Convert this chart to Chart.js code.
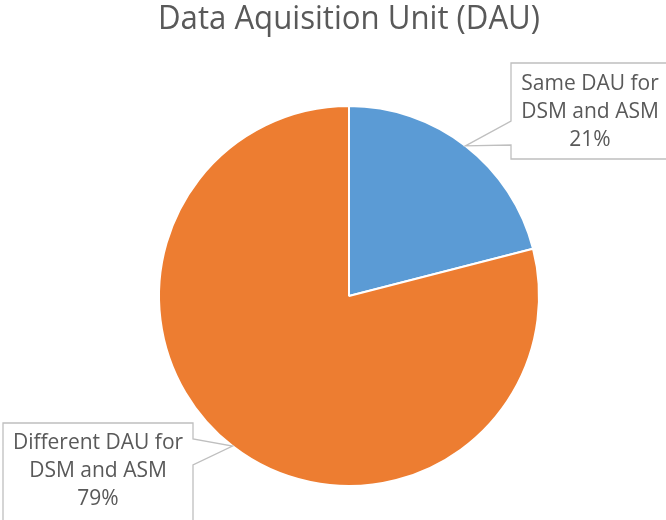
<!DOCTYPE html>
<html>
<head>
<meta charset="utf-8">
<script src="https://cdn.jsdelivr.net/npm/chart.js@4"></script>
<style>
  html, body { margin: 0; padding: 0; background: #fff; }
  #wrap { width: 666px; height: 520px; }
</style>
</head>
<body>
<div id="wrap"><canvas id="chart" width="666" height="520"></canvas></div>
<script>
const categories = ['Same DAU for\nDSM and ASM', 'Different DAU for\nDSM and ASM'];
const shares = [21, 79];
const sliceColors = ['#5B9BD5', '#ED7D31'];
// callout boxes: [left, top, right, bottom, tail top y, tail bottom y, text center x, first line y]
const callouts = [
  [511, 63, 680, 159, 121, 145, 590, 84],
  [3, 423, 193, 530, 439, 465, 98, 443]
];

const textColor = '#595959';
const fontFamily = "'Open Sans', 'Liberation Sans', sans-serif";

const calloutPlugin = {
  id: 'callouts',
  afterDatasetsDraw(chart) {
    const ctx = chart.ctx;
    const arcs = chart.getDatasetMeta(0).data;
    arcs.forEach(function(arc, i) {
      const p = arc.getProps(['x', 'y', 'startAngle', 'endAngle', 'outerRadius'], true);
      const mid = (p.startAngle + p.endAngle) / 2;
      const tipX = p.x + Math.cos(mid) * p.outerRadius;
      const tipY = p.y + Math.sin(mid) * p.outerRadius;
      const c = callouts[i];
      const edgeX = tipX < c[0] ? c[0] : c[2];
      ctx.save();
      ctx.fillStyle = '#ffffff';
      ctx.strokeStyle = '#BFBFBF';
      ctx.lineWidth = 1.3;
      ctx.beginPath();
      if (edgeX === c[0]) {
        ctx.moveTo(c[0], c[1]);
        ctx.lineTo(c[2], c[1]);
        ctx.lineTo(c[2], c[3]);
        ctx.lineTo(c[0], c[3]);
        ctx.lineTo(c[0], c[5]);
        ctx.lineTo(tipX, tipY);
        ctx.lineTo(c[0], c[4]);
      } else {
        ctx.moveTo(c[0], c[1]);
        ctx.lineTo(c[2], c[1]);
        ctx.lineTo(c[2], c[4]);
        ctx.lineTo(tipX, tipY);
        ctx.lineTo(c[2], c[5]);
        ctx.lineTo(c[2], c[3]);
        ctx.lineTo(c[0], c[3]);
      }
      ctx.closePath();
      ctx.fill();
      ctx.stroke();
      ctx.fillStyle = textColor;
      ctx.font = '21px ' + fontFamily;
      ctx.textAlign = 'center';
      ctx.textBaseline = 'middle';
      const lines = categories[i].split('\n').concat([shares[i] + '%']);
      lines.forEach(function(line, j) {
        ctx.fillText(line, c[6], c[7] + j * 28);
      });
      ctx.restore();
    });
  }
};

new Chart('chart', {
  type: 'pie',
  data: {
    labels: categories,
    datasets: [{
      data: shares,
      backgroundColor: sliceColors,
      borderColor: '#ffffff',
      borderWidth: 2
    }]
  },
  options: {
    responsive: false,
    animation: false,
    layout: {
      padding: { left: 158, right: 126, top: 0, bottom: 33 }
    },
    plugins: {
      legend: { display: false },
      tooltip: { enabled: false },
      title: {
        display: true,
        text: 'Data Aquisition Unit (DAU)',
        color: textColor,
        font: { family: fontFamily, size: 33, weight: 'normal' },
        padding: { top: 0, bottom: 65.4 }
      }
    }
  },
  plugins: [calloutPlugin]
});
</script>
</body>
</html>
